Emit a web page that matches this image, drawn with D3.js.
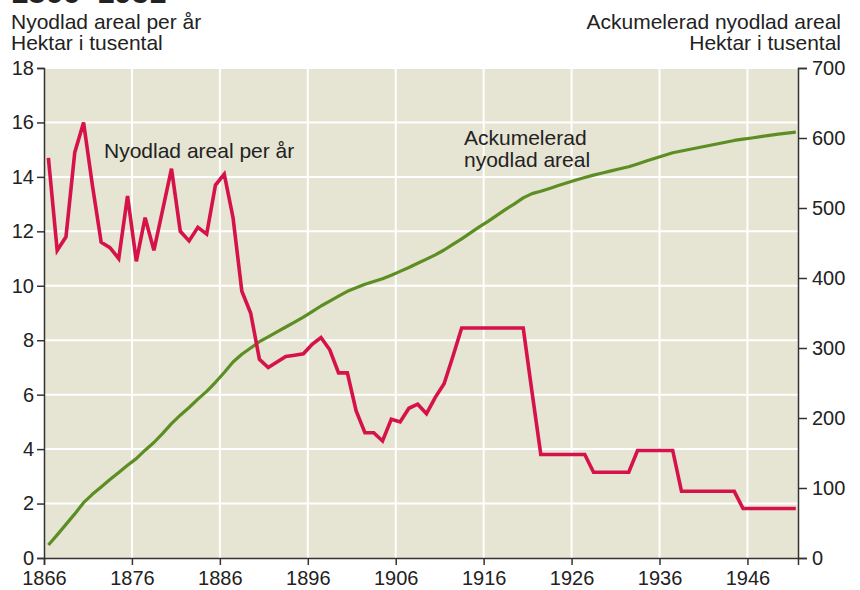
<!DOCTYPE html>
<html>
<head>
<meta charset="utf-8">
<script src="https://cdn.jsdelivr.net/npm/d3@7"></script>
<style>
  html, body { margin: 0; padding: 0; background: #fff; }
  svg { display: block; font-family: "Liberation Sans", Arial, Helvetica, sans-serif; }
</style>
</head>
<body>
<svg id="chart" width="860" height="590"></svg>
<script>
// ---- Data ----
const years = [1866,1867,1868,1869,1870,1871,1872,1873,1874,1875,1876,1877,1878,1879,1880,
  1881,1882,1883,1884,1885,1886,1887,1888,1889,1890,1891,1892,1893,1894,1895,1896,1897,1898,
  1899,1900,1901,1902,1903,1904,1905,1906,1907,1908,1909,1910,1911,1912,1913,1914,1915,1916,
  1917,1918,1919,1920,1921,1922,1923,1924,1925,1926,1927,1928,1929,1930,1931,1932,1933,1934,
  1935,1936,1937,1938,1939,1940,1941,1942,1943,1944,1945,1946,1947,1948,1949,1950,1951];

// Nyodlad areal per år (tusen hektar) – left axis
const perYear = [14.7,11.3,11.8,14.9,16.0,13.7,11.6,11.4,11.0,13.3,10.9,12.5,11.3,12.8,14.3,
  12.0,11.65,12.15,11.9,13.7,14.1,12.5,9.8,9.0,7.3,7.0,7.2,7.4,7.45,7.5,7.85,8.1,7.65,
  6.8,6.8,5.4,4.6,4.6,4.3,5.1,5.0,5.5,5.65,5.3,5.9,6.4,7.4,8.45,8.45,8.45,8.45,
  8.45,8.45,8.45,8.45,6.1,3.8,3.8,3.8,3.8,3.8,3.8,3.15,3.15,3.15,3.15,3.15,3.95,3.95,
  3.95,3.95,3.95,2.45,2.45,2.45,2.45,2.45,2.45,2.45,1.82,1.82,1.82,1.82,1.82,1.82,1.82];

// Ackumelerad nyodlad areal (tusen hektar) – right axis
const cumulative = [18.6,33,48,63,79,91,101.5,112,122,132.5,142,154,165,178,192,
  204,215,227,238,251,265,280,291,300,309,316,323,330,337,344,352,360,367,
  374,381,386,391,395,399,404,409.5,415,421,427,433,440,448,456,464.5,473,481,
  489.5,498,506,514.5,520.5,524,528,532,536,540,543.5,547,550,553,556,559,563,567,
  571,575,579,581.5,584,586.5,589,591.5,594,596.5,598.3,600,601.9,603.7,605.5,607,608.5];

const xTicks = [1866,1876,1886,1896,1906,1916,1926,1936,1946];
const leftTicks = [0,2,4,6,8,10,12,14,16,18];
const rightTicks = [0,100,200,300,400,500,600,700];

const titleText = "1866–1951";
const leftTitle = ["Nyodlad areal per år", "Hektar i tusental"];
const rightTitle = ["Ackumelerad nyodlad areal", "Hektar i tusental"];
const redLabel = "Nyodlad areal per år";
const greenLabel = ["Ackumelerad", "nyodlad areal"];

// ---- Layout ----
const L = 44, R = 798, T = 68, B = 558;
const RED = "#d5124a", GREEN = "#5d8e24", BG = "#e6e4d2", INK = "#222";

const svg = d3.select("#chart");

const x = d3.scaleLinear().domain([1866, 1951.75]).range([L, R]);
const yL = d3.scaleLinear().domain([0, 18]).range([B, T]);
const yR = d3.scaleLinear().domain([0, 700]).range([B, T]);

// background
svg.append("rect").attr("x", L).attr("y", T).attr("width", R - L).attr("height", B - T).attr("fill", BG);

// grid
const grid = svg.append("g").attr("stroke", "#fff").attr("stroke-width", 2);
grid.selectAll("line.h").data(leftTicks.filter(d => d > 0)).join("line")
  .attr("x1", L).attr("x2", R).attr("y1", d => yL(d)).attr("y2", d => yL(d));
grid.selectAll("line.v").data(xTicks.filter(d => d > 1866)).join("line")
  .attr("x1", d => x(d)).attr("x2", d => x(d)).attr("y1", T).attr("y2", B);

// series lines (points at mid-year)
const lineRed = d3.line().x((d, i) => x(years[i] + 0.5)).y(d => yL(d)).curve(d3.curveLinear);
const lineGreen = d3.line().x((d, i) => x(years[i] + 0.5)).y(d => yR(d)).curve(d3.curveLinear);

svg.append("path").datum(cumulative).attr("d", lineGreen)
  .attr("fill", "none").attr("stroke", GREEN).attr("stroke-width", 3.2)
  .attr("stroke-linejoin", "round");
svg.append("path").datum(perYear).attr("d", lineRed)
  .attr("fill", "none").attr("stroke", RED).attr("stroke-width", 3.6)
  .attr("stroke-linejoin", "miter");

// axes
function styleAxis(g) {
  g.selectAll("path.domain").attr("stroke", "#333").attr("stroke-width", 1.5);
  g.selectAll(".tick line").attr("stroke", "#333").attr("stroke-width", 1.5);
  g.selectAll(".tick text").attr("fill", INK).style("font-size", "20px")
    .style("font-family", '"Liberation Sans", Arial, Helvetica, sans-serif');
}

svg.append("g").attr("transform", `translate(0,${B})`)
  .call(d3.axisBottom(x).tickValues(xTicks).tickFormat(d3.format("d")).tickSizeOuter(0).tickSize(7).tickPadding(6))
  .call(styleAxis);

svg.append("g").attr("transform", `translate(${L},0)`)
  .call(d3.axisLeft(yL).tickValues(leftTicks).tickSizeOuter(0).tickSize(7).tickPadding(3))
  .call(styleAxis);

svg.append("g").attr("transform", `translate(${R},0)`)
  .call(d3.axisRight(yR).tickValues(rightTicks).tickSizeOuter(0).tickSize(9).tickPadding(5))
  .call(styleAxis);

// texts
const txt = (s, xx, yy, anchor, size, weight) => svg.append("text")
  .attr("x", xx).attr("y", yy).attr("text-anchor", anchor || "start")
  .attr("fill", INK).style("font-size", (size || 21) + "px")
  .style("font-weight", weight || "normal").text(s);

txt(titleText, 11, 3, "start", 31, "bold");
txt(leftTitle[0], 11, 29);
txt(leftTitle[1], 11, 50);
txt(rightTitle[0], 841, 29, "end");
txt(rightTitle[1], 841, 50, "end");
txt(redLabel, 104, 158);
txt(greenLabel[0], 464, 145);
txt(greenLabel[1], 464, 167);
</script>
</body>
</html>
